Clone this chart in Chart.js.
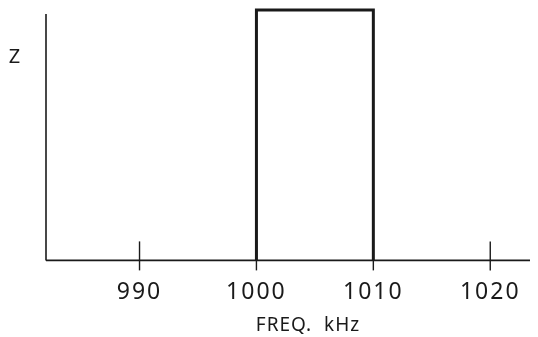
<!DOCTYPE html>
<html>
<head>
<meta charset="utf-8">
<script src="https://cdn.jsdelivr.net/npm/chart.js@4.4.1/dist/chart.umd.min.js"></script>
<style>
  html, body { margin: 0; padding: 0; background: #fff; }
  #wrap { width: 538px; height: 337px; }
</style>
</head>
<body>
<div id="wrap"><canvas id="c" width="538" height="337"></canvas></div>
<script>
// frequency band (kHz) and the rectangle outline of the impedance
const bandFreq = [1000, 1000, 1010, 1010];
const bandZ = [0, 1, 1, 0];
const xTicks = [990, 1000, 1010, 1020];
const xRange = [982, 1023.4];
const xTitle = 'FREQ.  kHz';
const yTitle = 'Z';

const ink = '#1a1a1a';

// axis lines, crossing tick marks and the two labels
const axesPlugin = {
    id: 'axesPlugin',
    beforeDraw(chart) {
        chart.ctx.letterSpacing = '2px';
    },
    afterDraw(chart) {
        const ctx = chart.ctx;
        const area = chart.chartArea;
        const x = chart.scales.x;
        const y0 = chart.scales.y.getPixelForValue(0);
        ctx.save();
        ctx.strokeStyle = ink;
        ctx.lineCap = 'butt';
        // y axis
        ctx.lineWidth = 1.6;
        ctx.beginPath();
        ctx.moveTo(area.left, area.top + 4);
        ctx.lineTo(area.left, y0);
        ctx.stroke();
        // x axis
        ctx.lineWidth = 1.8;
        ctx.beginPath();
        ctx.moveTo(area.left, y0);
        ctx.lineTo(area.right, y0);
        ctx.stroke();
        // tick marks
        ctx.lineWidth = 1.4;
        xTicks.forEach(v => {
            const px = x.getPixelForValue(v);
            ctx.beginPath();
            ctx.moveTo(px, y0 - 19);
            ctx.lineTo(px, y0 + 10);
            ctx.stroke();
        });
        // labels
        ctx.fillStyle = ink;
        ctx.letterSpacing = '1px';
        ctx.font = '19px "Noto Sans", sans-serif';
        ctx.textAlign = 'center';
        ctx.textBaseline = 'middle';
        ctx.fillText(xTitle, 308, 326);
        ctx.font = '20px "Noto Sans", sans-serif';
        ctx.fillText(yTitle, 15, 57);
        ctx.restore();
    }
};

new Chart(document.getElementById('c'), {
    type: 'line',
    data: {
        datasets: [{
            data: bandFreq.map((f, i) => ({ x: f, y: bandZ[i] })),
            borderColor: ink,
            borderWidth: 3,
            pointRadius: 0,
            tension: 0,
            fill: false,
            clip: false
        }]
    },
    options: {
        responsive: false,
        animation: false,
        layout: { padding: { left: 46, right: 8, top: 10, bottom: 13 } },
        plugins: { legend: { display: false }, tooltip: { enabled: false } },
        scales: {
            x: {
                type: 'linear',
                min: xRange[0],
                max: xRange[1],
                afterBuildTicks: s => { s.ticks = xTicks.map(v => ({ value: v })); },
                grid: { display: false, drawTicks: false },
                border: { display: false },
                ticks: {
                    color: ink,
                    padding: 18,
                    maxRotation: 0,
                    autoSkip: false,
                    callback: v => String(v),
                    font: { family: '"Noto Sans", sans-serif', size: 23 }
                }
            },
            y: {
                min: 0,
                max: 1,
                display: false
            }
        }
    },
    plugins: [axesPlugin]
});
</script>
</body>
</html>
